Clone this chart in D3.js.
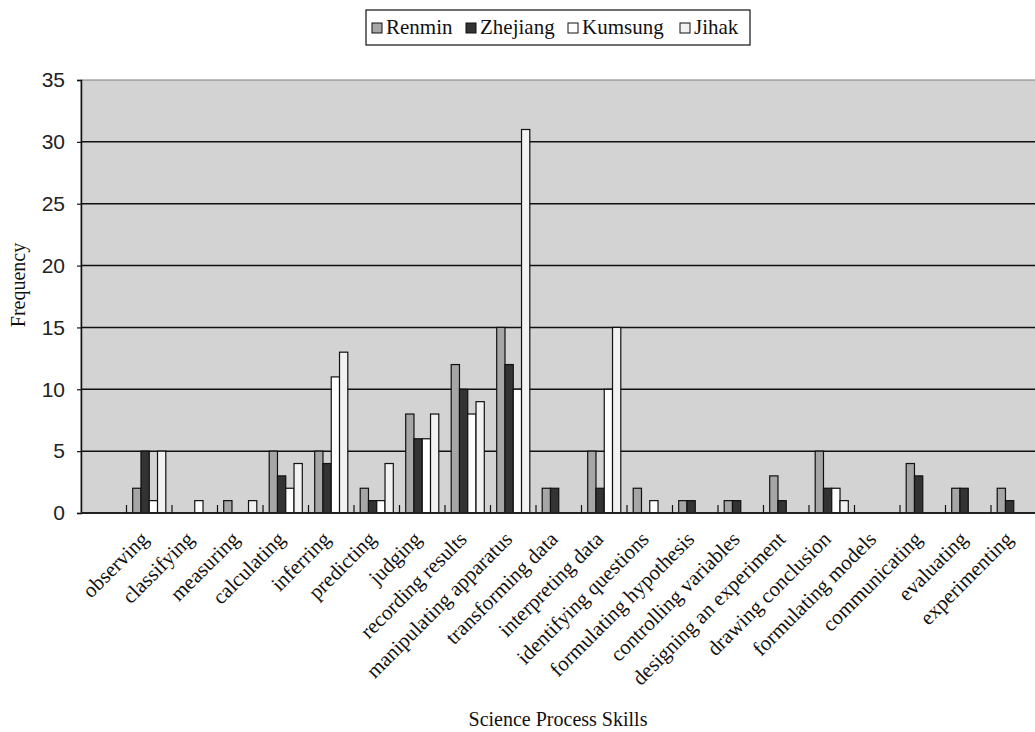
<!DOCTYPE html>
<html>
<head>
<meta charset="utf-8">
<script src="https://cdn.jsdelivr.net/npm/d3@7"></script>
<style>
  html, body { margin: 0; padding: 0; background: #ffffff; }
  svg { display: block; }
</style>
</head>
<body>
<svg id="chart" width="1035" height="732"></svg>
<script>
// ---- data ----
const categories = [
  "observing", "classifying", "measuring", "calculating", "inferring",
  "predicting", "judging", "recording results", "manipulating apparatus",
  "transforming data", "interpreting data", "identifying questions",
  "formulating hypothesis", "controlling variables", "designing an experiment",
  "drawing conclusion", "formulating models", "communicating", "evaluating",
  "experimenting"
];
const seriesNames = ["Renmin", "Zhejiang", "Kumsung", "Jihak"];
const renmin   = [2, 0, 1, 5, 5, 2, 8, 12, 15, 2, 5, 2, 1, 1, 3, 5, 0, 4, 2, 2];
const zhejiang = [5, 0, 0, 3, 4, 1, 6, 10, 12, 2, 2, 0, 1, 1, 1, 2, 0, 3, 2, 1];
const kumsung  = [1, 1, 0, 2, 11, 1, 6, 8, 10, 0, 10, 1, 0, 0, 0, 2, 0, 0, 0, 0];
const jihak    = [5, 0, 1, 4, 13, 4, 8, 9, 31, 0, 15, 0, 0, 0, 0, 1, 0, 0, 0, 0];
const yTicks = [0, 5, 10, 15, 20, 25, 30, 35];
const seriesColors = ["#a6a6a6", "#333333", "#ffffff", "#f2f2f2"];

const seriesValues = [renmin, zhejiang, kumsung, jihak];

// ---- layout ----
const svg = d3.select("#chart");
const plotL = 81, plotR = 1036.5, plotT = 80, plotB = 513;
const serif = "'Liberation Serif', 'Times New Roman', serif";
const sans = "'Liberation Sans', Arial, sans-serif";

// leading empty slot before the first category (as in the reference)
const xDomain = [""].concat(categories);
const x = d3.scaleBand().domain(xDomain).range([plotL, plotR]).paddingInner(0).paddingOuter(0);
const xs = d3.scaleBand().domain(seriesNames).range([0, x.bandwidth()]).paddingInner(0).paddingOuter(0.75);
const y = d3.scaleLinear().domain([0, 35]).range([plotB, plotT]);

// plot background
svg.append("rect")
  .attr("x", plotL).attr("y", plotT)
  .attr("width", plotR - plotL).attr("height", plotB - plotT)
  .attr("fill", "#d3d3d3").attr("stroke", "#808080").attr("stroke-width", 1);

// gridlines
svg.append("g").selectAll("line")
  .data(yTicks.filter(t => t > 0 && t < 35))
  .join("line")
  .attr("x1", plotL).attr("x2", plotR)
  .attr("y1", d => y(d)).attr("y2", d => y(d))
  .attr("stroke", "#111").attr("stroke-width", 1.5);

// bars
const groups = svg.append("g").selectAll("g")
  .data(categories)
  .join("g")
  .attr("transform", d => `translate(${x(d)},0)`);

groups.selectAll("rect")
  .data((d, i) => seriesNames.map((s, j) => ({ s, j, v: seriesValues[j][i] })).filter(o => o.v > 0))
  .join("rect")
  .attr("x", o => xs(o.s))
  .attr("width", xs.bandwidth())
  .attr("y", o => y(o.v))
  .attr("height", o => y(0) - y(o.v))
  .attr("fill", o => seriesColors[o.j])
  .attr("stroke", "#111")
  .attr("stroke-width", 1.2);

// y axis
const yAxis = d3.axisLeft(y).tickValues(yTicks).tickSize(4).tickPadding(12);
const gy = svg.append("g").attr("transform", `translate(${plotL},0)`).call(yAxis);
gy.select(".domain").attr("stroke", "#111").attr("stroke-width", 1.5);
gy.selectAll(".tick line").attr("stroke", "#111").attr("stroke-width", 1.2);
gy.selectAll(".tick text")
  .style("font-family", sans).style("font-size", "21px").attr("fill", "#222");

// x axis: baseline + inner ticks at category boundaries
const gx = svg.append("g").attr("transform", `translate(0,${plotB})`);
gx.append("line").attr("x1", plotL).attr("x2", plotR).attr("y1", 0).attr("y2", 0)
  .attr("stroke", "#222").attr("stroke-width", 2);
gx.selectAll("line.tk")
  .data(xDomain.slice(1))
  .join("line").attr("class", "tk")
  .attr("x1", d => x(d)).attr("x2", d => x(d))
  .attr("y1", 0).attr("y2", -8)
  .attr("stroke", "#111").attr("stroke-width", 1.2);

// x labels (rotated)
svg.append("g").selectAll("text")
  .data(categories)
  .join("text")
  .attr("transform", d => `translate(${x(d) + x.bandwidth() / 2 - 10},${plotB + 17}) rotate(-45)`)
  .attr("text-anchor", "end")
  .attr("dy", "0.7em")
  .style("font-family", serif).style("font-size", "21px").attr("fill", "#111")
  .text(d => d);

// axis titles
svg.append("text")
  .attr("transform", `translate(25,285) rotate(-90)`)
  .attr("text-anchor", "middle")
  .style("font-family", serif).style("font-size", "20px").attr("fill", "#111")
  .text("Frequency");

svg.append("text")
  .attr("x", 558).attr("y", 726)
  .attr("text-anchor", "middle")
  .style("font-family", serif).style("font-size", "20px").attr("fill", "#111")
  .text("Science Process Skills");

// legend
const legend = svg.append("g");
legend.append("rect")
  .attr("x", 366).attr("y", 10).attr("width", 384).attr("height", 35)
  .attr("fill", "#fff").attr("stroke", "#111").attr("stroke-width", 1.2);
const legendX = [372, 466, 568, 680];
const li = legend.selectAll("g.item")
  .data(seriesNames)
  .join("g").attr("class", "item")
  .attr("transform", (d, i) => `translate(${legendX[i]},0)`);
li.append("rect")
  .attr("x", 0).attr("y", 23).attr("width", 10).attr("height", 10)
  .attr("fill", (d, i) => seriesColors[i]).attr("stroke", "#111").attr("stroke-width", 1);
li.append("text")
  .attr("x", 14).attr("y", 34)
  .style("font-family", serif).style("font-size", "21px").attr("fill", "#111")
  .text(d => d);
</script>
</body>
</html>
